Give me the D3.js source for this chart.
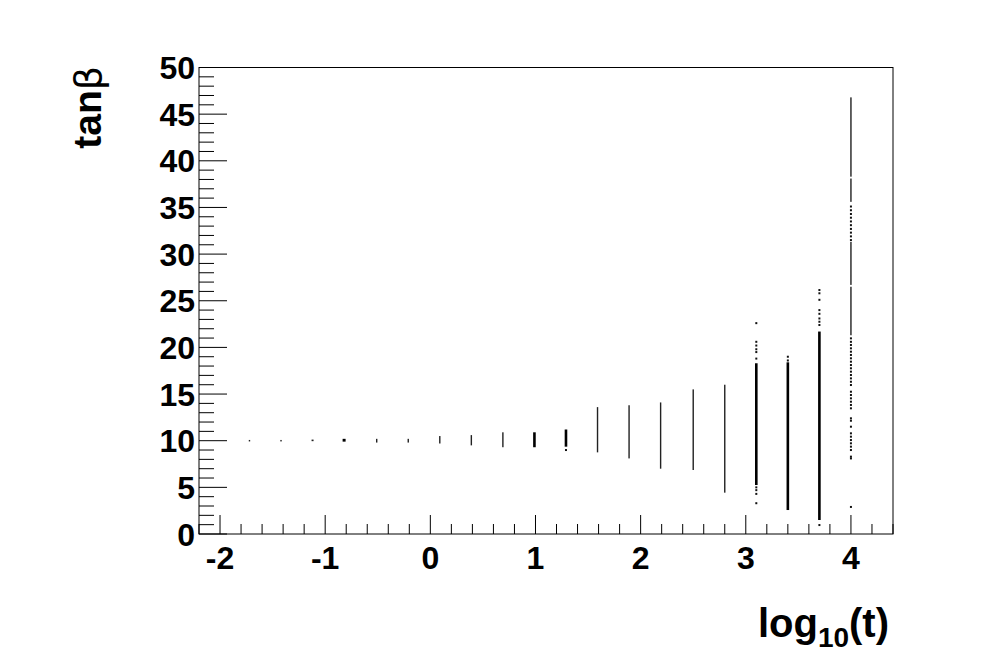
<!DOCTYPE html>
<html>
<head>
<meta charset="utf-8">
<script src="https://cdn.jsdelivr.net/npm/d3@7/dist/d3.min.js"></script>
<style>
  html, body { margin: 0; padding: 0; background: #fff; }
  svg { display: block; }
  text { font-family: "Liberation Sans", Arial, Helvetica, sans-serif; font-weight: bold; fill: #000; }
</style>
</head>
<body>
<svg id="chart" width="994" height="667"></svg>
<script>
// ---------------- DATA ----------------
// log10(t) column positions
const logT = [-1.72, -1.42, -1.12, -0.82, -0.51, -0.21, 0.09, 0.39, 0.69, 0.99,
              1.29, 1.59, 1.89, 2.19, 2.50, 2.80, 3.10, 3.40, 3.70, 4.00];
// dense tanβ range of each column
const tanbLow  = [10.0, 10.0, 9.95, 9.9, 9.8, 9.8, 9.7, 9.5, 9.3, 9.3,
                  9.36, 8.75, 8.1, 7.0, 6.86, 4.43, 5.25, 2.57, 1.5, 38.3];
const tanbHigh = [10.08, 10.08, 10.12, 10.2, 10.2, 10.2, 10.5, 10.6, 10.9, 10.9,
                  11.2, 13.6, 13.8, 14.1, 15.5, 16.0, 18.3, 18.4, 21.7, 46.8];
// extra continuous pieces [log10(t), low, high]
const extraSegments = [
  [4.00, 35.6, 38.1], [4.00, 26.7, 31.3], [4.00, 21.3, 26.5]
];
// isolated points [log10(t), tanβ]
const scatterPoints = [
  [1.29, 9.0],
  [3.10, 18.8], [3.10, 19.5], [3.10, 19.8], [3.10, 20.2], [3.10, 20.6], [3.10, 22.6],
  [3.10, 5.0], [3.10, 4.7], [3.10, 4.3], [3.10, 3.3],
  [3.40, 18.6], [3.40, 19.0],
  [3.70, 22.4], [3.70, 22.75], [3.70, 23.1], [3.70, 23.6], [3.70, 24.0],
  [3.70, 25.1], [3.70, 25.8], [3.70, 26.15], [3.70, 0.96],
  [4.00, 35.1], [4.00, 34.7], [4.00, 34.3], [4.00, 33.9], [4.00, 33.5], [4.00, 33.1],
  [4.00, 32.7], [4.00, 32.3], [4.00, 31.9], [4.00, 31.5],
  [4.00, 20.97], [4.00, 20.6], [4.00, 20.26], [4.00, 19.9], [4.00, 19.54], [4.00, 19.19],
  [4.00, 18.83], [4.00, 18.47], [4.00, 18.11], [4.00, 17.76], [4.00, 17.4], [4.00, 17.04],
  [4.00, 16.68], [4.00, 16.32], [4.00, 15.97], [4.00, 15.25], [4.00, 14.9], [4.00, 14.54],
  [4.00, 14.18], [4.00, 13.83], [4.00, 13.47], [4.00, 12.4], [4.00, 12.14], [4.00, 11.5],
  [4.00, 10.79], [4.00, 10.43], [4.00, 10.07], [4.00, 9.72], [4.00, 9.36], [4.00, 9.0],
  [4.00, 8.29], [4.00, 8.1], [4.00, 2.9]
];
const xTickLabels = [-2, -1, 0, 1, 2, 3, 4];
const yTickLabels = [0, 5, 10, 15, 20, 25, 30, 35, 40, 45, 50];
const xTitleMain = "log", xTitleSub = "10", xTitleEnd = "(t)";
const yTitleMain = "tan", yTitleSym = "β";

// ---------------- LAYOUT ----------------
const svg = d3.select("#chart");
const L = 199, R = 893, T = 67.5, B = 534;
const x = d3.scaleLinear().domain([-2.2, 4.4]).range([L, R]);
const y = d3.scaleLinear().domain([0, 50]).range([B, T]);

// width style per column (dense columns drawn thicker)
const thickCols = new Set([9, 10, 16, 17, 18]);
function colWidth(i) {
  if (thickCols.has(i)) return 2.6;
  if (i === 3) return 3;
  if (i === 2) return 2;
  return 1.4;
}

// ---------------- MARKS ----------------
const g = svg.append("g");
const cols = logT.map((v, i) => ({ v, lo: tanbLow[i], hi: tanbHigh[i], i }));
g.selectAll("rect.col").data(cols).enter().append("rect")
  .attr("class", "col")
  .attr("x", d => x(d.v) - colWidth(d.i) / 2)
  .attr("width", d => colWidth(d.i))
  .attr("y", d => y(d.hi))
  .attr("height", d => Math.max(y(d.lo) - y(d.hi), 1.5))
  .attr("fill", d => (thickCols.has(d.i) || d.i === 3) ? "#000" : "#222");

g.selectAll("rect.seg").data(extraSegments).enter().append("rect")
  .attr("class", "seg")
  .attr("x", d => x(d[0]) - 0.7)
  .attr("width", 1.4)
  .attr("y", d => y(d[2]))
  .attr("height", d => y(d[1]) - y(d[2]))
  .attr("fill", "#222");

g.selectAll("rect.pt").data(scatterPoints).enter().append("rect")
  .attr("class", "pt")
  .attr("x", d => x(d[0]) - 1)
  .attr("width", 2)
  .attr("y", d => y(d[1]) - 1)
  .attr("height", 2)
  .attr("fill", "#111");

// ---------------- FRAME & AXES ----------------
svg.append("rect").attr("x", L).attr("y", T).attr("width", R - L).attr("height", B - T)
  .attr("fill", "none").attr("stroke", "#000").attr("stroke-width", 1);

// x ticks
const xMinor = d3.range(-22, 45, 2).map(v => v / 10);
svg.append("g").selectAll("line").data(xMinor).enter().append("line")
  .attr("x1", d => x(d)).attr("x2", d => x(d))
  .attr("y1", B).attr("y2", d => B - (Math.abs(d - Math.round(d)) < 1e-9 ? 19 : 10))
  .attr("stroke", "#000").attr("stroke-width", 1);
// y ticks
const yMinor = d3.range(0, 51, 1);
svg.append("g").selectAll("line").data(yMinor).enter().append("line")
  .attr("y1", d => y(d)).attr("y2", d => y(d))
  .attr("x1", L).attr("x2", d => L + (d % 5 === 0 ? 28 : 15))
  .attr("stroke", "#000").attr("stroke-width", 1);

// x tick labels
svg.append("g").selectAll("text").data(xTickLabels).enter().append("text")
  .attr("x", d => x(d)).attr("y", 569)
  .attr("text-anchor", "middle").attr("font-size", 32)
  .text(d => d < 0 ? "-" + Math.abs(d) : String(d));
// y tick labels
svg.append("g").selectAll("text").data(yTickLabels).enter().append("text")
  .attr("x", 195).attr("y", d => y(d) + 11.5)
  .attr("text-anchor", "end").attr("font-size", 32)
  .text(d => String(d));

// x title
const xt = svg.append("text").attr("x", 889).attr("y", 637).attr("text-anchor", "end").attr("font-size", 40);
xt.append("tspan").text(xTitleMain);
xt.append("tspan").attr("font-size", 28).attr("dy", 10).text(xTitleSub);
xt.append("tspan").attr("dy", -10).text(xTitleEnd);

// y title
const yt = svg.append("text").attr("transform", "translate(101,66) rotate(-90)")
  .attr("text-anchor", "end").attr("font-size", 39);
yt.append("tspan").text(yTitleMain);
yt.append("tspan").attr("font-weight", "normal").attr("font-family", "DejaVu Sans").attr("font-size", 38).text(yTitleSym);
</script>
</body>
</html>
